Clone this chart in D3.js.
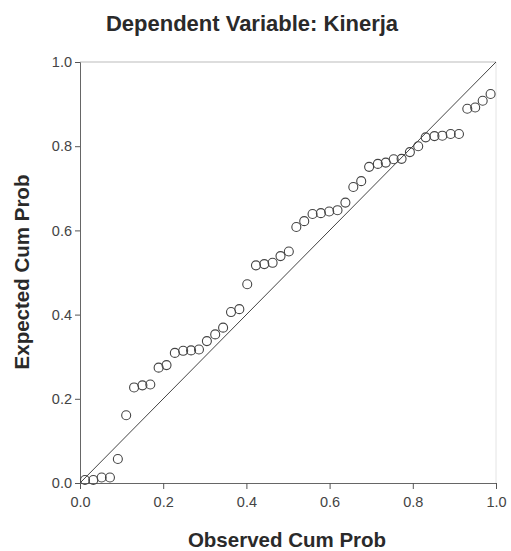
<!DOCTYPE html>
<html>
<head>
<meta charset="utf-8">
<script src="https://cdn.jsdelivr.net/npm/d3@7"></script>
<style>
    body { margin: 0; background: #fff; }
    text { font-family: "Liberation Sans", Arial, sans-serif; fill: #2a2a2a; }
</style>
</head>
<body>
<svg id="vis_svg"></svg>
<script>
// Data
let observed = [0.012, 0.032, 0.052, 0.072, 0.091, 0.111, 0.130, 0.150, 0.169, 0.189,
    0.208, 0.228, 0.248, 0.267, 0.286, 0.305, 0.325, 0.344, 0.363, 0.383,
    0.402, 0.423, 0.443, 0.463, 0.482, 0.502, 0.520, 0.539, 0.559, 0.579,
    0.599, 0.619, 0.638, 0.657, 0.676, 0.695, 0.716, 0.735, 0.754, 0.773,
    0.793, 0.813, 0.831, 0.852, 0.871, 0.891, 0.911, 0.931, 0.950, 0.968, 0.987];
let expected = [0.007, 0.007, 0.013, 0.013, 0.057, 0.161, 0.227, 0.232, 0.234, 0.274,
    0.280, 0.309, 0.314, 0.315, 0.317, 0.337, 0.353, 0.369, 0.406, 0.413,
    0.472, 0.517, 0.520, 0.523, 0.539, 0.550, 0.608, 0.622, 0.639, 0.641,
    0.645, 0.648, 0.666, 0.703, 0.717, 0.751, 0.758, 0.761, 0.769, 0.770,
    0.786, 0.800, 0.821, 0.824, 0.825, 0.829, 0.829, 0.889, 0.892, 0.908, 0.924];
let tickValues = [0, 0.2, 0.4, 0.6, 0.8, 1.0];
let refLine = [[0, 0], [1, 1]];

let config = { width: 511, height: 551, left: 80, right: 496, top: 62, bottom: 483 };

let svg = d3.select('#vis_svg')
    .attr('width', config.width)
    .attr('height', config.height);

let x = d3.scaleLinear().domain([0, 1]).range([config.left, config.right]);
let y = d3.scaleLinear().domain([0, 1]).range([config.bottom, config.top]);

// frame (top and right are faint)
svg.append('line')
    .attr('x1', config.left).attr('x2', config.right)
    .attr('y1', config.top).attr('y2', config.top)
    .style('stroke', '#bbb').style('stroke-width', 1);
svg.append('line')
    .attr('x1', config.right).attr('x2', config.right)
    .attr('y1', config.top).attr('y2', config.bottom)
    .style('stroke', '#e4e4e4').style('stroke-width', 1);

// axes
let xAxis = svg.append('g')
    .attr('transform', translate(0, config.bottom))
    .call(d3.axisBottom(x).tickValues(tickValues).tickFormat(d3.format('.1f')).tickSize(6).tickPadding(8));
let yAxis = svg.append('g')
    .attr('transform', translate(config.left, 0))
    .call(d3.axisLeft(y).tickValues(tickValues).tickFormat(d3.format('.1f')).tickSize(5).tickPadding(3));

[xAxis, yAxis].forEach(function(g) {
    g.select('.domain').style('stroke', '#666');
    g.selectAll('.tick line').style('stroke', '#555');
    g.selectAll('.tick text')
        .style('font-size', '14.5px')
        .style('font-family', '"Liberation Sans", Arial, sans-serif')
        .style('fill', '#444');
});

// reference diagonal
svg.append('path')
    .datum(refLine)
    .attr('d', d3.line().x(d => x(d[0])).y(d => y(d[1])))
    .style('fill', 'none')
    .style('stroke', '#444')
    .style('stroke-width', 1);

// points
svg.append('g').selectAll('circle')
    .data(observed)
    .join('circle')
    .attr('cx', d => x(d))
    .attr('cy', (d, i) => y(expected[i]))
    .attr('r', 4.5)
    .style('fill', 'none')
    .style('stroke', '#444')
    .style('stroke-width', 1.1);

// titles
svg.append('text')
    .attr('x', 252).attr('y', 31)
    .attr('text-anchor', 'middle')
    .style('font-size', '22px').style('font-weight', 'bold')
    .text('Dependent Variable: Kinerja');

svg.append('text')
    .attr('x', 287).attr('y', 547)
    .attr('text-anchor', 'middle')
    .style('font-size', '20.5px').style('font-weight', 'bold')
    .text('Observed Cum Prob');

svg.append('text')
    .attr('transform', translate(29, 272) + ' rotate(-90)')
    .attr('text-anchor', 'middle')
    .style('font-size', '20.5px').style('font-weight', 'bold')
    .text('Expected Cum Prob');

function translate(x, y) {
    return 'translate(' + x + ',' + y + ')';
}
</script>
</body>
</html>
